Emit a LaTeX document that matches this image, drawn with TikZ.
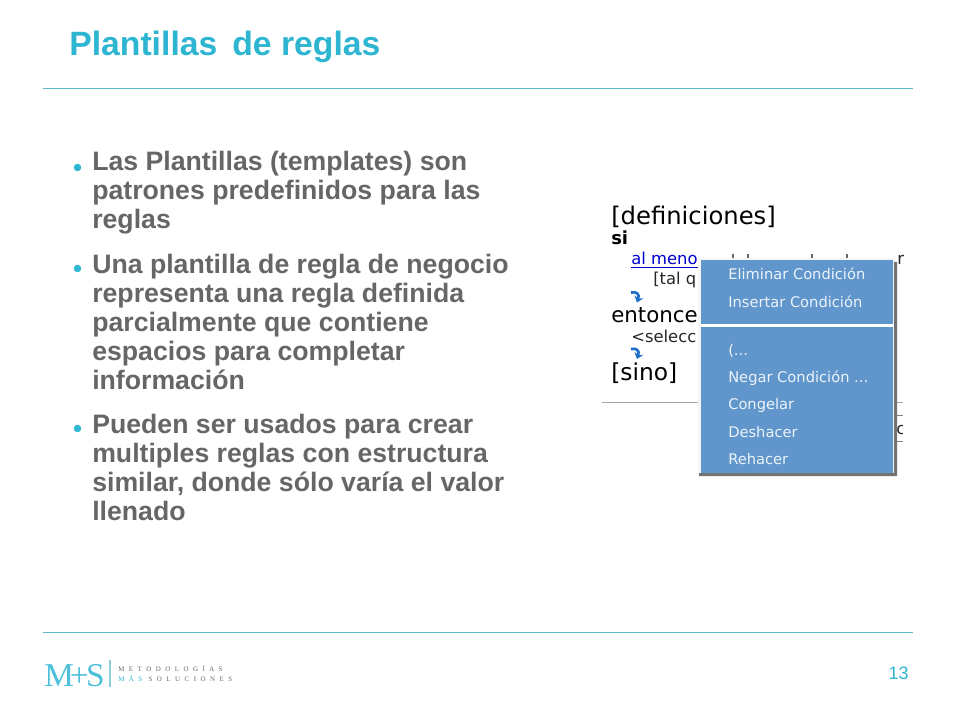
\documentclass[tikz,border=0pt]{standalone}
\usepackage{fontspec}
\setmainfont{Liberation Sans}
\newfontfamily\shotfont{DejaVu Sans}
\newfontfamily\logofont[LetterSpace=65]{Liberation Serif}
\usetikzlibrary{arrows.meta}
\definecolor{tealtitle}{HTML}{2DB5D2}
\definecolor{tealrule}{HTML}{5FB8C8}
\definecolor{greytext}{HTML}{666666}
\definecolor{menublue}{HTML}{6096CB}
\definecolor{arrowblue}{HTML}{1F6FC8}
\tikzset{
	bodyline/.style={anchor=base west,inner sep=0pt,text=greytext,font=\fontsize{20}{22}\selectfont\bfseries},
	bullet/.style={circle,fill=tealtitle,inner sep=0pt,minimum size=5.6pt},
	shotbig/.style={anchor=base west,inner sep=0pt,text=black,font=\shotfont\fontsize{17.5}{20}\selectfont},
	shotsmall/.style={anchor=base west,inner sep=0pt,text=black!85,font=\shotfont\fontsize{12.3}{14}\selectfont},
	menuitem/.style={anchor=base west,inner sep=0pt,text=white!88!menublue,font=\shotfont\fontsize{11}{13}\selectfont},
	logotext/.style={anchor=base west,inner sep=0pt,text=black!60,font=\logofont\fontsize{5.2}{6}\selectfont}
}
\begin{document}
\begin{tikzpicture}[x=0.75pt,y=-0.75pt,line join=round,>=stealth]
	\useasboundingbox (0,0) rectangle (960,720);
	% title and rules
	\node[anchor=base west,inner sep=0pt,text=tealtitle,font=\fontsize{25.3}{30}\selectfont\bfseries] (title) at (69,56) {Plantillas\, de reglas};
	\draw[tealrule,line width=0.7pt] (43,88.5)--(913,88.5);
	\draw[tealrule,line width=0.7pt] (43,632.5)--(913,632.5);
	% bullets
	\foreach \n/\y in {a/167.5,b/268.5,c/428.5}\node[bullet] (bul\n) at (77.5,\y) {};
	% body text
	\foreach \n/\y/\txt in {
		1/170.5/{Las Plantillas (templates) son},
		2/200/{patrones predefinidos para las},
		3/229/{reglas},
		4/273.5/{Una plantilla de regla de negocio},
		5/302.5/{representa una regla definida},
		6/331.5/{parcialmente que contiene},
		7/360.5/{espacios para completar},
		8/389/{información},
		9/433/{Pueden ser usados para crear},
		10/462/{multiples reglas con estructura},
		11/491/{similar, donde sólo varía el valor},
		12/520/{llenado}}
		\node[bodyline] (line\n) at (92,\y) {\txt};
	% screenshot, left part
	\node[shotbig,font=\shotfont\fontsize{18.2}{20}\selectfont] (defs) at (611,225) {[definiciones]};
	\node[shotbig,font=\shotfont\fontsize{13.5}{16}\selectfont\bfseries] (si) at (611,245) {si};
	\node[shotsmall,text=blue!80!black] (almeno) at (631,265) {\underline{al meno}};
	\node[shotsmall] (talq) at (653,285) {[tal q};
	\node[shotbig,font=\shotfont\fontsize{16}{20}\selectfont] (entonces) at (611,322.5) {entonce};
	\node[shotsmall] (selecc) at (631,342) {<selecc};
	\node[shotbig] (sino) at (611,380) {[sino]};
	\foreach \y in {292.5,349}{
		\draw[arrowblue,line width=2pt,-{Stealth[length=4.5pt,width=7pt]}] (631,\y) .. controls (636,\y-1) and (640,\y+1) .. (637,\y+10);
	}
	\draw[black!35,line width=0.7pt] (602,402.5)--(700,402.5);
	\draw[black!35,line width=0.7pt] (896,402.5)--(903,402.5);
	% bits behind the menu
	\foreach \x in {733,748,812,847}\draw[black!60,line width=0.8pt] (\x,254)--(\x,258);
	\node[shotsmall] (restr) at (897,265) {r};
	\draw[black!50,line width=0.7pt] (896,415)--(903,415);
	\draw[black!50,line width=0.7pt] (896,441)--(903,441);
	\node[shotsmall] (restc) at (896,434) {c};
	\fill[white] (903,420) rectangle (912,438);
	% menu
	\fill[black!55] (700,262)--(897,262)--(897,476)--(699,476)--cycle;
	\fill[black!4] (698,258) rectangle (894,473);
	\fill[menublue] (701,260.5) rectangle (893,473);
	\fill[white] (701,323.5) rectangle (893,326.5);
	\foreach \n/\y/\txt in {
		elim/280/{Eliminar Condición},
		ins/307.5/{Insertar Condición},
		par/355/{(...},
		neg/382/{Negar Condición ...},
		cong/409/{Congelar},
		desh/437/{Deshacer},
		reh/464/{Rehacer}}
		\node[menuitem] (\n) at (728,\y) {\txt};
	% logo
	\node[anchor=base west,inner sep=0pt,text=tealtitle!85,font=\fontspec{Liberation Serif}\fontsize{25}{25}\selectfont] (logo) at (44,686) {M\kern-3pt+\kern-2pt S};
	\draw[tealrule!70,line width=0.8pt] (110,660)--(110,687);
	\node[logotext] (logoa) at (118,671) {METODOLOGÍAS};
	\node[logotext] (logob) at (118,681) {\textcolor{tealtitle}{MÁS} SOLUCIONES};
	% page number
	\node[anchor=base east,inner sep=0pt,text=tealtitle,font=\fontsize{13.5}{16}\selectfont] (pagenum) at (909,679) {13};
\end{tikzpicture}
\end{document}
